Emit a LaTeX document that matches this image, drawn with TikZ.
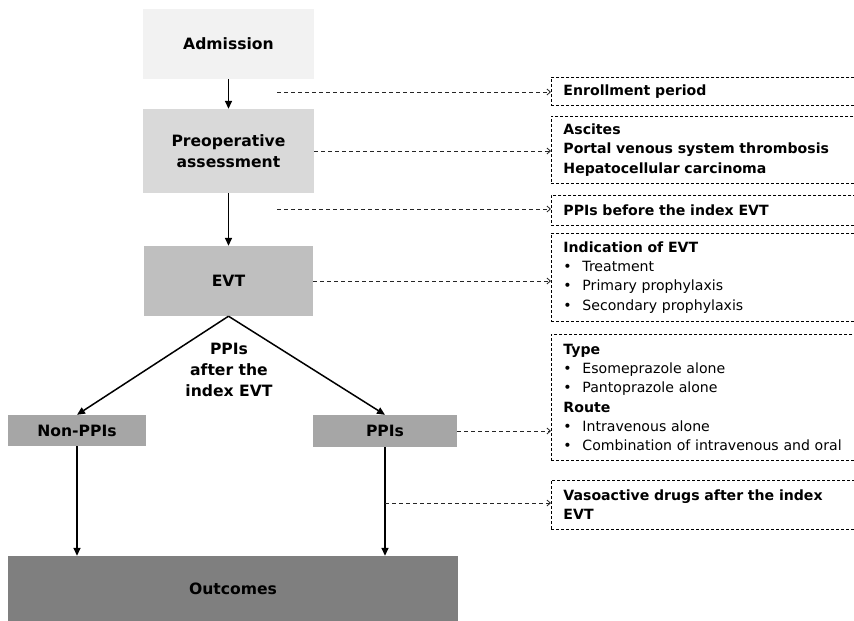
\documentclass[tikz,border=0pt]{standalone}
\usepackage{fontspec}
\setmainfont{DejaVu Sans}
\usetikzlibrary{arrows.meta}
\definecolor{cA}{HTML}{F2F2F2}
\definecolor{cB}{HTML}{D9D9D9}
\definecolor{cC}{HTML}{BFBFBF}
\definecolor{cD}{HTML}{A6A6A6}
\definecolor{cE}{HTML}{7F7F7F}
\newcommand\itm[1]{\makebox[19pt][l]{•}#1}
\begin{document}
\begin{tikzpicture}[x=1pt,y=-1pt,
  mainbox/.style={inner sep=0pt, align=center, font=\bfseries\fontsize{15.6}{21}\selectfont},
  sidebox/.style={draw, dash pattern=on 3pt off 2pt, line width=0.9pt, anchor=north west,
     minimum width=320, text width=296, inner xsep=12pt, inner ysep=0pt, align=left,
     font=\fontsize{14.1}{19.3}\selectfont},
  solidarr/.style={line width=1.5pt, -{Triangle[length=8pt,width=7pt]}},
  dasharr/.style={line width=0.8pt, draw=black!85, dash pattern=on 4pt off 3pt, -{Straight Barb[length=3.5pt,width=6pt]}}
]
\useasboundingbox (0,0) rectangle (854,621);
\clip (0,0) rectangle (854,621);
% main column
\node[mainbox, fill=cA, minimum width=171, minimum height=70] (adm) at (228.5,44) {Admission};
\node[mainbox, fill=cB, minimum width=171, minimum height=84] (pre) at (228.5,151) {Preoperative\\assessment};
\node[mainbox, fill=cC, minimum width=169, minimum height=70] (evt) at (228.5,281) {EVT};
\node[mainbox, fill=cD, minimum width=138, minimum height=31] (non) at (77,430.5) {Non-PPIs};
\node[mainbox, fill=cD, minimum width=144, minimum height=32] (ppi) at (385,431) {PPIs};
\node[mainbox, fill=cE, minimum width=450, minimum height=66] (out) at (233,589) {Outcomes};
\node[mainbox] (lab) at (229,370) {PPIs\\after the\\index EVT};
% solid arrows
\draw[solidarr] (adm) -- (pre);
\draw[solidarr] (pre) -- (evt);
\draw[solidarr] (evt.south) -- (non.north);
\draw[solidarr] (evt.south) -- (ppi.north);
\draw[solidarr] (non.south) -- (non.south |- out.north);
\draw[solidarr] (ppi.south) -- (ppi.south |- out.north);
% side boxes
\node[sidebox, minimum height=28] (b1) at (551,77) {\textbf{Enrollment period}};
\node[sidebox, minimum height=67] (b2) at (551,116) {\textbf{Ascites}\\\textbf{Portal venous system thrombosis}\\\textbf{Hepatocellular carcinoma}};
\node[sidebox, minimum height=30] (b3) at (551,195) {\textbf{PPIs before the index EVT}};
\node[sidebox, minimum height=88] (b4) at (551,233) {\textbf{Indication of EVT}\\\itm{Treatment}\\\itm{Primary prophylaxis}\\\itm{Secondary prophylaxis}};
\node[sidebox, minimum height=126] (b5) at (551,334) {\textbf{Type}\\\itm{Esomeprazole alone}\\\itm{Pantoprazole alone}\\\textbf{Route}\\\itm{Intravenous alone}\\\itm{Combination of intravenous and oral}};
\node[sidebox, minimum height=49] (b6) at (551,480) {\textbf{Vasoactive drugs after the index}\\\textbf{EVT}};
% dashed connectors
\coordinate (d1) at (277,92);
\coordinate (d3) at (277,209);
\coordinate (d6) at (385,503);
\draw[dasharr] (d1) -- (d1 -| b1.west);
\draw[dasharr] (pre.east) -- (pre.east -| b2.west);
\draw[dasharr] (d3) -- (d3 -| b3.west);
\draw[dasharr] (evt.east) -- (evt.east -| b4.west);
\draw[dasharr] (ppi.east) -- (ppi.east -| b5.west);
\draw[dasharr] (d6) -- (d6 -| b6.west);
\end{tikzpicture}
\end{document}
